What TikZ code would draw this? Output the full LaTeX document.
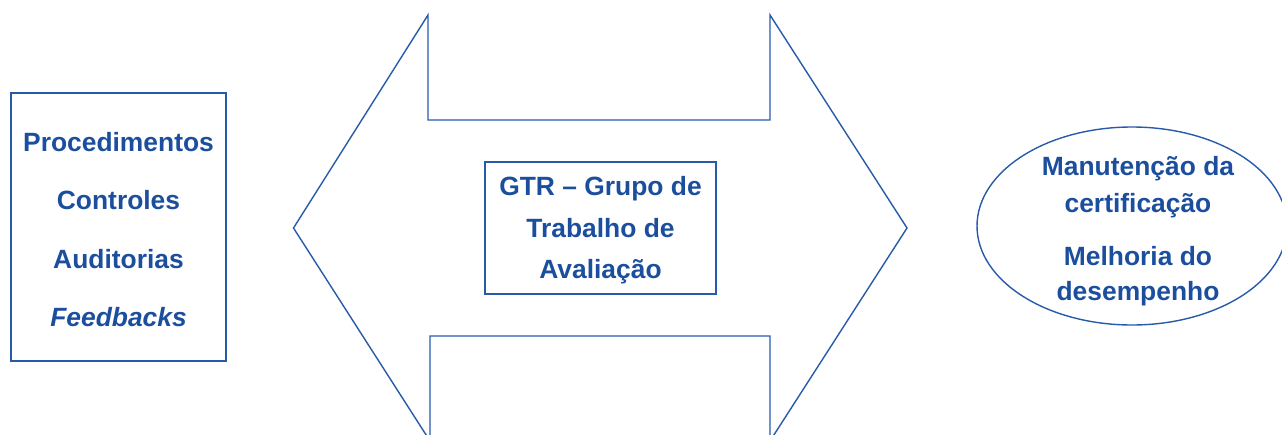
\documentclass[tikz,border=0pt]{standalone}
\usepackage{fontspec}
\setmainfont{Liberation Sans}
\usetikzlibrary{shapes.geometric}
\definecolor{dblue}{RGB}{28,78,158}
\definecolor{lblue}{RGB}{40,90,170}
\tikzset{
  shapeline/.style={draw=lblue, line width=1.4pt},
  lbl/.style={anchor=base, inner sep=0pt, text=dblue, font=\fontsize{26.4}{30}\selectfont\bfseries},
}
\begin{document}
\begin{tikzpicture}[x=1pt,y=-1pt]
\useasboundingbox (0,0) rectangle (1282,434);
\begin{scope}
\clip (0,0) rectangle (1282,434);
% double arrow
\draw[shapeline, line join=miter]
  (293.5,228) -- (428,15) -- (428,120) -- (770,120) -- (770,15) -- (907,228)
  -- (770,441) -- (770,336) -- (430,336) -- (430,441) -- cycle;
% ellipse
\node[shapeline, ellipse, minimum width=310, minimum height=198, inner sep=0pt] (goal) at (1132,226) {};
\end{scope}
% left box
\node[shapeline, rectangle, minimum width=215, minimum height=268, inner sep=0pt] (inputs) at (118.5,227) {};
\node[lbl] (t1) at (118.5,151) {Procedimentos};
\node[lbl] (t2) at (118.5,209.5) {Controles};
\node[lbl] (t3) at (118.5,268) {Auditorias};
\node[lbl, font=\fontsize{26.4}{30}\selectfont\bfseries\itshape] (t4) at (118.5,326) {Feedbacks};
% center box
\node[shapeline, rectangle, minimum width=231, minimum height=132, inner sep=0pt, fill=white] (gtr) at (600.5,228) {};
\node[lbl] (g1) at (600.5,195) {GTR – Grupo de};
\node[lbl] (g2) at (600.5,237) {Trabalho de};
\node[lbl] (g3) at (600.5,278) {Avaliação};
% ellipse text
\node[lbl] (e1) at (1138,175) {Manutenção da};
\node[lbl] (e2) at (1138,212) {certificação};
\node[lbl] (e3) at (1138,265.5) {Melhoria do};
\node[lbl] (e4) at (1138,300) {desempenho};
\end{tikzpicture}
\end{document}
